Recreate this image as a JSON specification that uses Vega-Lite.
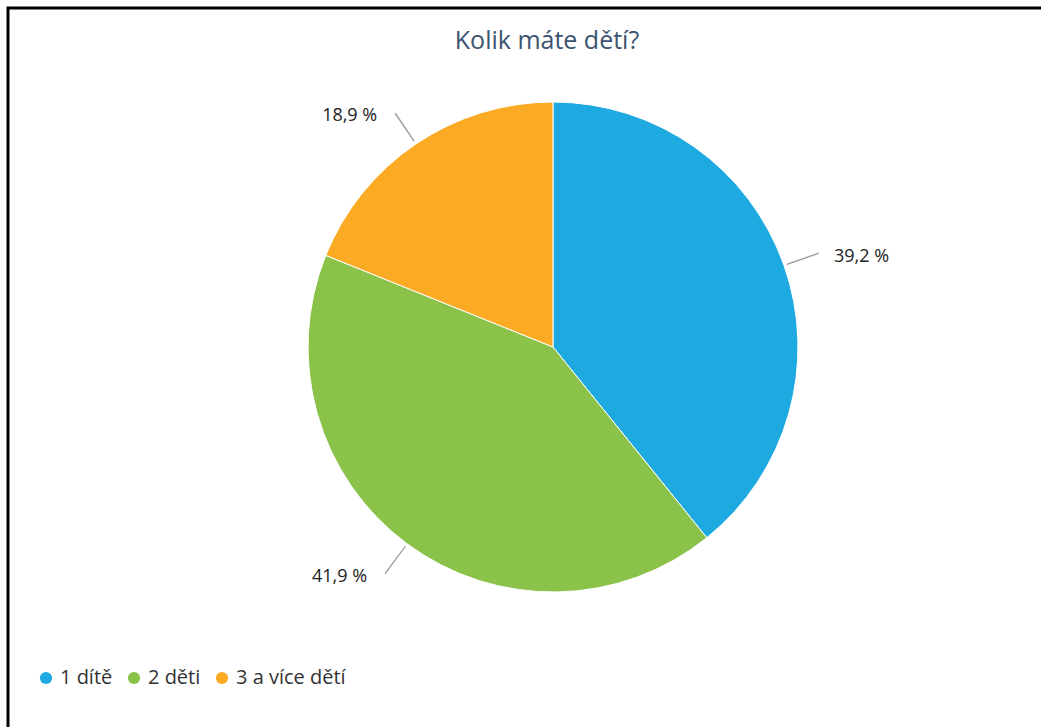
{
  "$schema": "https://vega.github.io/schema/vega-lite/v6.json",
  "autosize": {"type": "none"},
  "padding": {"left": 8, "top": 8, "right": 0, "bottom": 0},
  "width": 1040,
  "height": 725,
  "background": "white",
  "view": {"stroke": "black", "strokeWidth": 3, "fill": "white"},
  "config": {
    "view": {"stroke": "black", "strokeWidth": 3},
    "style": {"cell": {"stroke": "black", "strokeWidth": 3}},
    "font": "Open Sans"
  },
  "title": {
    "text": "Kolik máte dětí?",
    "fontSize": 25,
    "fontWeight": "normal",
    "font": "Open Sans",
    "color": "#3b5470",
    "anchor": "middle",
    "frame": "group",
    "offset": -46,
    "dx": 19
  },
  "data": {
    "values": [
      {"kategorie": "1 dítě", "podil": 39.2, "popisek": "39,2 %", "poradi": 1},
      {"kategorie": "2 děti", "podil": 41.9, "popisek": "41,9 %", "poradi": 2},
      {"kategorie": "3 a více dětí", "podil": 18.9, "popisek": "18,9 %", "poradi": 3}
    ]
  },
  "layer": [
    {
      "mark": {"type": "arc", "stroke": "white", "strokeWidth": 1, "radius": 245, "x": {"expr": "width/2+25"}, "y": {"expr": "height/2-23.5"}},
      "encoding": {
        "theta": {"field": "podil", "type": "quantitative", "stack": true, "scale": {"domain": [0, 100]}},
        "order": {"field": "poradi", "type": "quantitative", "sort": "ascending"},
        "color": {
          "field": "kategorie",
          "type": "nominal",
          "scale": {"domain": ["1 dítě", "2 děti", "3 a více dětí"], "range": ["#1fa9e1", "#8bc34a", "#fbaa23"]},
          "legend": {
            "title": null,
            "orient": "none",
            "direction": "horizontal",
            "legendX": 28,
            "legendY": 660,
            "symbolType": "circle",
            "symbolSize": 150,
            "symbolStrokeWidth": 0,
            "labelFont": "Open Sans",
            "labelFontSize": 20,
            "labelColor": "#333333",
            "labelOffset": 4,
            "columnPadding": 11,
            "padding": 0
          }
        }
      }
    },
    {
      "transform": [
        {"stack": "podil", "groupby": [], "sort": [{"field": "poradi", "order": "ascending"}], "as": ["v0", "v1"]},
        {"calculate": "(datum.v0+datum.v1)/2 - 0.04", "as": "lo"},
        {"calculate": "(datum.v0+datum.v1)/2 + 0.04", "as": "hi"}
      ],
      "mark": {"type": "arc", "color": "#999999", "radius": 282, "radius2": 248, "x": {"expr": "width/2+25"}, "y": {"expr": "height/2-23.5"}},
      "encoding": {
        "theta": {"field": "lo", "type": "quantitative"},
        "theta2": {"field": "hi"}
      }
    },
    {
      "transform": [
        {"stack": "podil", "groupby": [], "sort": [{"field": "poradi", "order": "ascending"}], "as": ["v0", "v1"]},
        {"calculate": "(datum.v0+datum.v1)/2", "as": "mid"},
        {"filter": "datum.mid < 50"}
      ],
      "mark": {"type": "text", "radius": 282, "align": "left", "baseline": "middle", "dx": 15, "dy": 4, "fontSize": 18, "font": "Open Sans", "color": "#222222", "x": {"expr": "width/2+25"}, "y": {"expr": "height/2-23.5"}},
      "encoding": {
        "theta": {"field": "mid", "type": "quantitative"},
        "text": {"field": "popisek"}
      }
    },
    {
      "transform": [
        {"stack": "podil", "groupby": [], "sort": [{"field": "poradi", "order": "ascending"}], "as": ["v0", "v1"]},
        {"calculate": "(datum.v0+datum.v1)/2", "as": "mid"},
        {"filter": "datum.mid >= 50"}
      ],
      "mark": {"type": "text", "radius": 282, "align": "right", "baseline": "middle", "dx": -18, "dy": 3, "fontSize": 18, "font": "Open Sans", "color": "#222222", "x": {"expr": "width/2+25"}, "y": {"expr": "height/2-23.5"}},
      "encoding": {
        "theta": {"field": "mid", "type": "quantitative"},
        "text": {"field": "popisek"}
      }
    }
  ]
}
